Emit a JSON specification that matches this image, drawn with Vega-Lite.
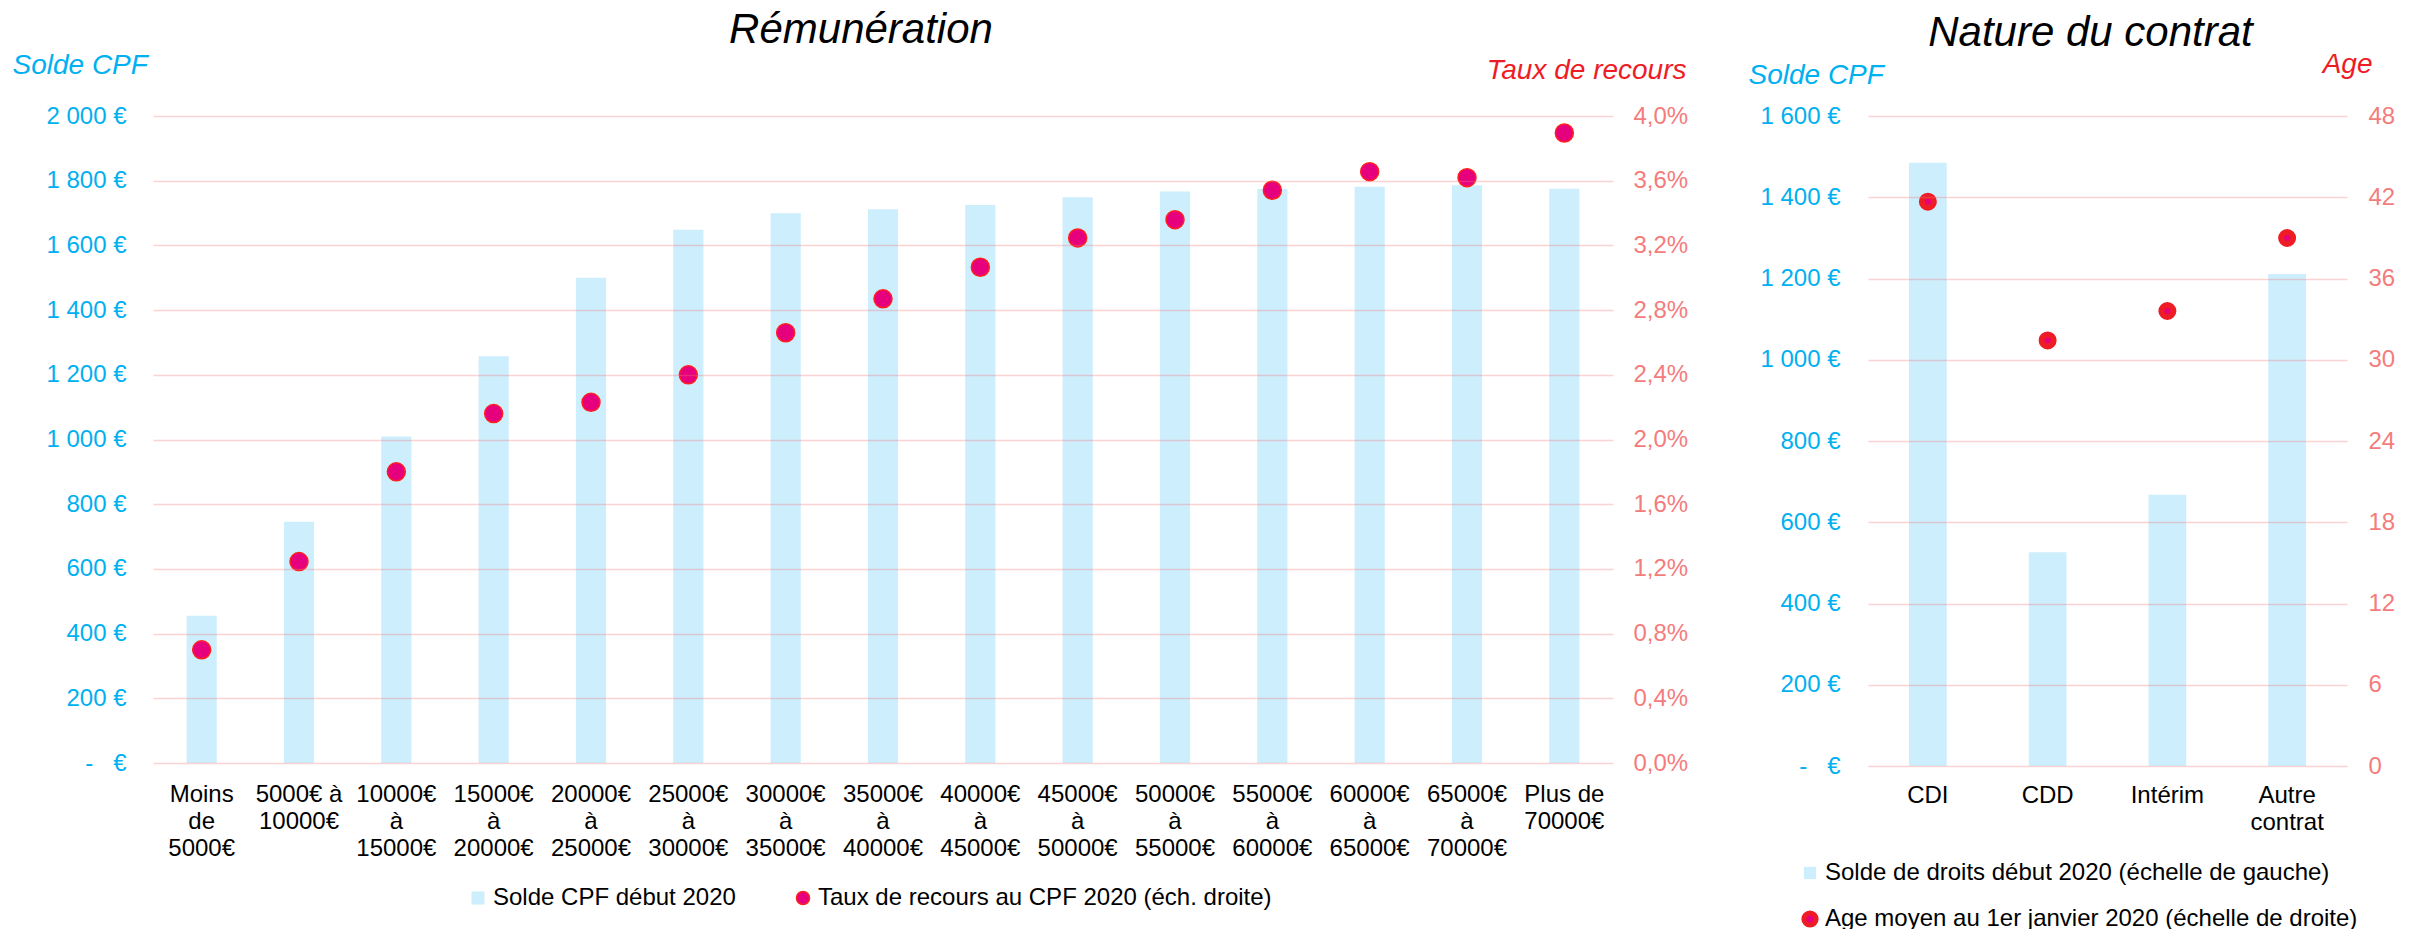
{
  "$schema": "https://vega.github.io/schema/vega-lite/v6.json",
  "background": "white",
  "padding": {"left": 12, "top": 9, "right": 26, "bottom": 4},
  "bounds": "flush",
  "spacing": 255,
  "config": {
    "font": "Liberation Sans",
    "view": {"stroke": null},
    "axis": {
      "labelFont": "Liberation Sans",
      "titleFont": "Liberation Sans",
      "domain": false,
      "ticks": false,
      "grid": false,
      "labelFontSize": 24,
      "titleFontSize": 28,
      "titleFontStyle": "italic",
      "titleFontWeight": "normal"
    },
    "legend": {"labelFont": "Liberation Sans", "labelFontSize": 24, "labelColor": "black", "labelLimit": 0}
  },
  "resolve": {"scale": {"color": "independent"}, "legend": {"color": "independent"}},
  "hconcat": [
    {
      "width": 1460,
      "height": 647,
      "title": {"text": "Rémunération", "anchor": "middle", "dx": -22, "offset": -34, "baseline": "alphabetic", "fontSize": 42, "fontStyle": "italic", "fontWeight": "normal", "color": "#000000", "font": "Liberation Sans"},
      "data": {"values": [
        {"cat": "Moins de 5000€", "solde": 455, "taux": 0.0070},
        {"cat": "5000€ à 10000€", "solde": 746, "taux": 0.01245},
        {"cat": "10000€ à 15000€", "solde": 1009, "taux": 0.0180},
        {"cat": "15000€ à 20000€", "solde": 1257, "taux": 0.0216},
        {"cat": "20000€ à 25000€", "solde": 1500, "taux": 0.0223},
        {"cat": "25000€ à 30000€", "solde": 1648, "taux": 0.0240},
        {"cat": "30000€ à 35000€", "solde": 1699, "taux": 0.0266},
        {"cat": "35000€ à 40000€", "solde": 1712, "taux": 0.0287},
        {"cat": "40000€ à 45000€", "solde": 1725, "taux": 0.03065},
        {"cat": "45000€ à 50000€", "solde": 1749, "taux": 0.03246},
        {"cat": "50000€ à 55000€", "solde": 1767, "taux": 0.03359},
        {"cat": "55000€ à 60000€", "solde": 1774, "taux": 0.03541},
        {"cat": "60000€ à 65000€", "solde": 1781, "taux": 0.03656},
        {"cat": "65000€ à 70000€", "solde": 1786, "taux": 0.03619},
        {"cat": "Plus de 70000€", "solde": 1775, "taux": 0.03895}
      ]},
      "encoding": {
        "x": {
          "field": "cat", "type": "nominal", "sort": null,
          "scale": {"paddingInner": 0, "paddingOuter": 0},
          "axis": {
            "title": null,
            "labelExpr": "datum.label == '5000€ à 10000€' ? ['5000€ à', '10000€'] : datum.label == 'Plus de 70000€' ? ['Plus de', '70000€'] : split(datum.label, ' ')",
            "labelColor": "#000000", "labelPadding": 19, "labelLineHeight": 27, "labelBaseline": "top",
            "labelAngle": 0, "labelOverlap": false, "labelLimit": 0
          }
        }
      },
      "layer": [
        {
          "mark": {"type": "bar", "width": {"band": 0.31}},
          "encoding": {
            "y": {
              "field": "solde", "type": "quantitative",
              "scale": {"domain": [0, 2000], "nice": false},
              "axis": {
                "orient": "left",
                "values": [0, 200, 400, 600, 800, 1000, 1200, 1400, 1600, 1800, 2000],
                "labelExpr": "datum.value == 0 ? '-\u00a0\u00a0\u00a0€' : replace(format(datum.value, ',.0f'), ',', '\u00a0') + '\u00a0€'",
                "labelColor": "#00b0f0", "labelPadding": 27,
                "title": "Solde CPF", "titleColor": "#00b0f0", "titleAngle": 0, "titleAlign": "left",
                "titleBaseline": "alphabetic", "titleX": -141, "titleY": -43,
                "grid": true, "gridColor": "#f07a80", "gridOpacity": 0.33, "gridWidth": 1.7, "zindex": 1
              }
            },
            "color": {
              "datum": "Solde CPF début 2020",
              "scale": {"domain": ["Solde CPF début 2020", "Taux de recours au CPF 2020 (éch. droite)"], "range": ["#cdeefc", "#e6007e"]},
              "legend": {
                "title": null, "orient": "none", "legendX": 313, "legendY": 770, "direction": "horizontal",
                "columnPadding": 55, "labelOffset": 3, "symbolSize": 170, "padding": 0,
                "encode": {"symbols": {"update": {
                  "shape": {"signal": "datum.value == 'Solde CPF début 2020' ? 'square' : 'circle'"},
                  "stroke": {"signal": "datum.value == 'Solde CPF début 2020' ? 'transparent' : '#ff1f1f'"},
                  "strokeWidth": {"value": 1.5},
                  "opacity": {"value": 1}
                }}}
              }
            }
          }
        },
        {
          "mark": {"type": "point", "filled": true, "size": 324, "stroke": "#ff1f1f", "strokeWidth": 1.5, "opacity": 1},
          "encoding": {
            "y": {
              "field": "taux", "type": "quantitative",
              "scale": {"domain": [0, 0.04], "nice": false},
              "axis": {
                "orient": "right",
                "values": [0, 0.004, 0.008, 0.012, 0.016, 0.02, 0.024, 0.028, 0.032, 0.036, 0.04],
                "labelExpr": "replace(format(datum.value * 100, '.1f'), '.', ',') + '%'",
                "labelColor": "#f47c7c", "labelPadding": 20,
                "title": "Taux de recours", "titleColor": "#ee1c25", "titleAngle": 0, "titleAlign": "right",
                "titleBaseline": "alphabetic", "titleX": 73, "titleY": -38,
                "grid": false
              }
            },
            "color": {"datum": "Taux de recours au CPF 2020 (éch. droite)"}
          }
        }
      ],
      "resolve": {"scale": {"y": "independent"}}
    },
    {
      "width": 479,
      "height": 650,
      "title": {"text": "Nature du contrat", "anchor": "middle", "dx": -17, "offset": -38, "baseline": "alphabetic", "fontSize": 42, "fontStyle": "italic", "fontWeight": "normal", "color": "#000000", "font": "Liberation Sans"},
      "data": {"values": [
        {"cat": "CDI", "solde": 1485, "age": 41.67},
        {"cat": "CDD", "solde": 526, "age": 31.43},
        {"cat": "Intérim", "solde": 668, "age": 33.6},
        {"cat": "Autre contrat", "solde": 1211, "age": 38.99}
      ]},
      "encoding": {
        "x": {
          "field": "cat", "type": "nominal", "sort": null,
          "scale": {"paddingInner": 0, "paddingOuter": 0},
          "axis": {
            "title": null,
            "labelExpr": "datum.label == 'Autre contrat' ? ['Autre', 'contrat'] : datum.label",
            "labelColor": "#000000", "labelPadding": 17, "labelLineHeight": 27, "labelBaseline": "top",
            "labelAngle": 0, "labelOverlap": false, "labelLimit": 0
          }
        }
      },
      "layer": [
        {
          "mark": {"type": "bar", "width": {"band": 0.315}},
          "encoding": {
            "y": {
              "field": "solde", "type": "quantitative",
              "scale": {"domain": [0, 1600], "nice": false},
              "axis": {
                "orient": "left",
                "values": [0, 200, 400, 600, 800, 1000, 1200, 1400, 1600],
                "labelExpr": "datum.value == 0 ? '-\u00a0\u00a0\u00a0€' : replace(format(datum.value, ',.0f'), ',', '\u00a0') + '\u00a0€'",
                "labelColor": "#00b0f0", "labelPadding": 28,
                "title": "Solde CPF", "titleColor": "#00b0f0", "titleAngle": 0, "titleAlign": "left",
                "titleBaseline": "alphabetic", "titleX": -120, "titleY": -33,
                "grid": true, "gridColor": "#f07a80", "gridOpacity": 0.33, "gridWidth": 1.7, "zindex": 1
              }
            },
            "color": {
              "datum": "Solde de droits début 2020 (échelle de gauche)",
              "scale": {"domain": ["Solde de droits début 2020 (échelle de gauche)", "Age moyen au 1er janvier 2020 (échelle de droite)"], "range": ["#cdeefc", "#e6007e"]},
              "legend": {
                "title": null, "orient": "none", "legendX": -70, "legendY": 745, "direction": "vertical",
                "rowPadding": 12, "labelOffset": 3, "symbolSize": 150, "padding": 0,
                "encode": {"symbols": {"update": {
                  "shape": {"signal": "datum.value == 'Solde de droits début 2020 (échelle de gauche)' ? 'square' : 'circle'"},
                  "stroke": {"signal": "datum.value == 'Solde de droits début 2020 (échelle de gauche)' ? 'transparent' : '#ee1c25'"},
                  "strokeWidth": {"value": 5},
                  "opacity": {"value": 1}
                }}}
              }
            }
          }
        },
        {
          "mark": {"type": "point", "filled": true, "size": 144, "stroke": "#ee1c25", "strokeWidth": 6, "opacity": 1},
          "encoding": {
            "y": {
              "field": "age", "type": "quantitative",
              "scale": {"domain": [0, 48], "nice": false},
              "axis": {
                "orient": "right",
                "values": [0, 6, 12, 18, 24, 30, 36, 42, 48],
                "labelColor": "#f47c7c", "labelPadding": 21,
                "title": "Age", "titleColor": "#ee1c25", "titleAngle": 0, "titleAlign": "right",
                "titleBaseline": "alphabetic", "titleX": 25, "titleY": -44,
                "grid": false
              }
            },
            "color": {"datum": "Age moyen au 1er janvier 2020 (échelle de droite)"}
          }
        }
      ],
      "resolve": {"scale": {"y": "independent"}}
    }
  ]
}
